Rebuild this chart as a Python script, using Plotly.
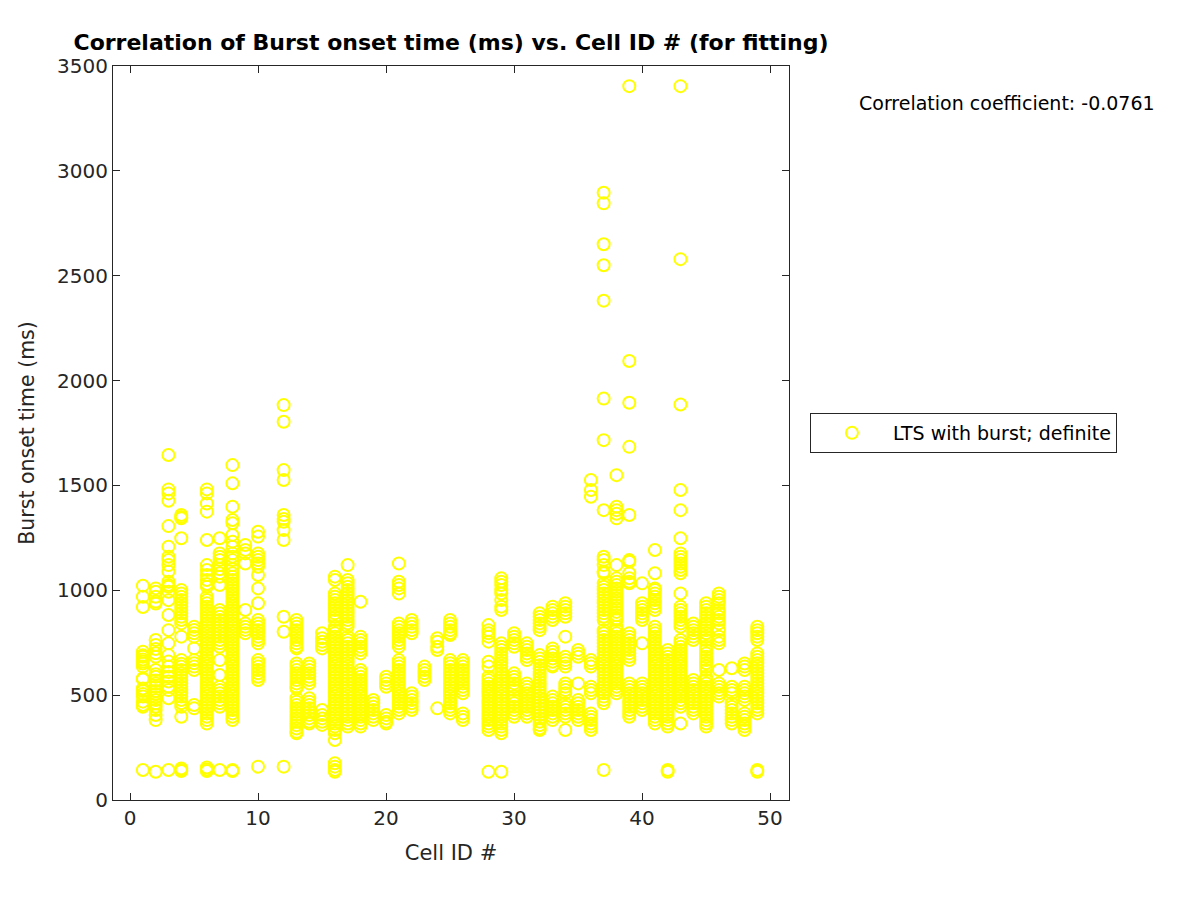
import plotly.graph_objects as go

# ---------------- data ----------------
cell_ids = [1, 2, 3, 4, 5, 6, 7, 8, 9, 10,
            12, 13, 14, 15, 16, 17, 18, 19, 20, 21, 22, 23, 24, 25, 26,
            28, 29, 30, 31, 32, 33, 34, 35, 36, 37, 38, 39, 40, 41, 42,
            43, 44, 45, 46, 47, 48, 49]

onset_cells_01_10 = [
    [1022, 969, 920, 707, 690, 683, 670, 660, 651, 636, 580, 575, 532, 520, 505, 493, 469, 453, 445, 143],
    [1009, 993, 969, 946, 937, 763, 739, 720, 700, 683, 620, 600, 588, 570, 555, 540, 520, 505, 490, 477, 460, 445, 429, 405, 381, 135],
    [1645, 1481, 1462, 1427, 1306, 1208, 1160, 1144, 1120, 1089, 1041, 1025, 1017, 993, 953, 882, 810, 747, 691, 660, 636, 610, 588, 565, 540, 524, 485, 143],
    [1359, 1350, 1343, 1248, 1001, 985, 969, 954, 938, 922, 906, 890, 874, 858, 842, 779, 667, 650, 636, 620, 604, 588, 572, 556, 540, 524, 509, 493, 477, 461, 445, 397, 150, 143, 138],
    [826, 811, 795, 779, 723, 667, 652, 636, 620, 453, 437],
    [1481, 1462, 1414, 1375, 1240, 1120, 1097, 1073, 1049, 1030, 1017, 969, 954, 938, 922, 906, 890, 874, 858, 842, 826, 810, 795, 779, 763, 747, 731, 715, 699, 683, 667, 652, 636, 620, 604, 588, 572, 556, 540, 524, 509, 493, 477, 461, 445, 429, 413, 397, 381, 365, 155, 146, 138],
    [1248, 1176, 1160, 1144, 1120, 1100, 1081, 1065, 1025, 906, 890, 874, 858, 842, 826, 810, 795, 779, 763, 747, 731, 667, 596, 540, 524, 509, 493, 477, 461, 445, 143],
    [1597, 1510, 1398, 1335, 1320, 1264, 1232, 1208, 1176, 1160, 1144, 1120, 1100, 1081, 1065, 1049, 1033, 1017, 1001, 985, 969, 954, 938, 922, 906, 890, 874, 858, 842, 826, 810, 795, 779, 763, 747, 731, 715, 699, 683, 667, 652, 636, 620, 604, 588, 572, 556, 540, 524, 509, 493, 477, 461, 445, 429, 413, 397, 381, 143, 138],
    [1216, 1192, 1176, 1128, 906, 842, 826, 811, 795],
    [1279, 1256, 1176, 1160, 1144, 1128, 1112, 1073, 1009, 938, 858, 842, 826, 810, 795, 779, 763, 747, 667, 652, 636, 620, 604, 588, 572, 159],
]

onset_cells_12_26 = [
    [1883, 1804, 1573, 1526, 1359, 1340, 1327, 1287, 1240, 874, 802, 159],
    [858, 842, 826, 810, 795, 779, 763, 747, 731, 723, 651, 636, 620, 604, 588, 572, 556, 540, 532, 485, 469, 453, 437, 421, 405, 389, 373, 357, 341, 325, 318],
    [651, 636, 620, 604, 588, 572, 556, 485, 469, 453, 437, 421, 405, 389, 373, 365],
    [795, 771, 755, 739, 723, 429, 405, 389, 373, 358],
    [1065, 1049, 985, 969, 954, 938, 922, 906, 890, 874, 858, 826, 810, 795, 779, 763, 747, 731, 715, 699, 683, 667, 652, 636, 620, 604, 588, 572, 556, 540, 524, 509, 493, 477, 461, 445, 429, 413, 397, 381, 365, 350, 334, 318, 286, 175, 159, 143, 135],
    [1120, 1049, 1033, 1017, 1001, 985, 969, 954, 938, 922, 906, 890, 874, 858, 842, 826, 779, 763, 747, 731, 715, 699, 683, 667, 652, 636, 620, 604, 588, 572, 556, 540, 524, 509, 493, 477, 461, 445, 429, 413, 397, 381, 365, 350],
    [945, 779, 763, 747, 731, 715, 699, 620, 604, 588, 572, 556, 540, 524, 509, 493, 477, 461, 445, 429, 413, 397, 381, 365, 350],
    [477, 461, 445, 429, 413, 397, 381],
    [588, 572, 556, 540, 405, 389, 373, 365],
    [1128, 1041, 1025, 1009, 985, 842, 826, 810, 795, 779, 763, 747, 731, 667, 652, 636, 620, 604, 588, 572, 556, 540, 524, 509, 493, 477, 461, 445, 429, 413],
    [858, 842, 826, 810, 795, 509, 493, 477, 461, 445, 429],
    [636, 620, 604, 588, 572],
    [771, 755, 731, 715, 437],
    [858, 842, 826, 810, 795, 787, 667, 652, 636, 620, 604, 588, 572, 556, 540, 524, 509, 493, 477, 461, 445, 429, 413],
    [667, 652, 636, 620, 604, 588, 572, 556, 540, 524, 509, 413, 397, 381],
]

onset_cells_28_49 = [
    [834, 810, 795, 779, 755, 659, 636, 588, 572, 556, 540, 524, 509, 493, 477, 461, 445, 429, 413, 397, 381, 365, 350, 334, 135],
    [1057, 1041, 1025, 1001, 985, 954, 922, 906, 747, 731, 715, 699, 683, 667, 652, 636, 620, 604, 588, 572, 556, 540, 524, 509, 493, 477, 461, 445, 429, 413, 397, 381, 365, 350, 334, 318, 135],
    [795, 779, 763, 747, 731, 604, 588, 572, 556, 540, 524, 493, 477, 461, 445, 429, 413, 397],
    [747, 731, 715, 699, 683, 667, 556, 540, 524, 509, 493, 477, 461, 445, 429, 413, 397],
    [890, 874, 858, 842, 826, 810, 691, 675, 659, 643, 627, 611, 595, 580, 564, 548, 532, 516, 500, 485, 469, 453, 437, 421, 405, 389, 373, 357, 341, 334],
    [922, 906, 890, 874, 858, 723, 707, 691, 675, 659, 643, 636, 493, 477, 461, 445, 429, 413, 397, 381],
    [938, 922, 906, 890, 874, 779, 683, 667, 652, 636, 556, 540, 524, 509, 461, 445, 429, 413, 397, 334],
    [715, 699, 683, 556, 477, 461, 445, 429, 413, 397, 381],
    [1526, 1478, 1446, 667, 652, 636, 540, 524, 509, 413, 397, 381, 365, 350, 334],
    [2896, 2845, 2650, 2550, 2381, 1914, 1716, 1382, 1160, 1144, 1120, 1089, 1081, 1033, 1017, 1001, 985, 969, 954, 938, 922, 906, 890, 874, 858, 810, 795, 779, 763, 747, 731, 715, 699, 683, 667, 652, 636, 620, 604, 588, 572, 556, 540, 524, 509, 493, 477, 461, 143],
    [1549, 1398, 1382, 1365, 1343, 1120, 1057, 1041, 1025, 1009, 993, 977, 961, 945, 929, 913, 897, 881, 865, 858, 826, 810, 795, 779, 763, 747, 731, 715, 699, 683, 667, 652, 636, 620, 604, 588, 572, 556, 540, 524, 509],
    [3404, 2093, 1894, 1684, 1359, 1144, 1136, 1081, 1057, 1041, 1033, 795, 779, 763, 747, 731, 715, 699, 683, 667, 556, 540, 524, 509, 493, 477, 461, 445, 429, 413, 397],
    [1033, 938, 922, 906, 890, 874, 858, 747, 556, 540, 524, 509, 493, 477, 461, 445, 429],
    [1192, 1081, 1009, 1001, 985, 969, 954, 938, 922, 906, 826, 810, 795, 779, 763, 747, 731, 715, 699, 683, 667, 652, 636, 620, 604, 588, 572, 556, 540, 524, 509, 493, 477, 461, 445, 429, 413, 397, 381, 365],
    [715, 699, 683, 667, 652, 636, 620, 604, 588, 572, 556, 540, 524, 509, 493, 477, 461, 445, 429, 413, 397, 381, 365, 350, 143, 135],
    [3404, 2579, 1886, 1478, 1382, 1248, 1176, 1160, 1144, 1128, 1112, 1097, 1081, 985, 922, 906, 890, 874, 858, 842, 826, 763, 747, 731, 715, 699, 683, 667, 652, 636, 620, 604, 588, 572, 556, 540, 524, 509, 493, 477, 461, 445, 365],
    [842, 826, 810, 795, 779, 763, 572, 556, 540, 524, 509, 493, 477, 461, 445, 429, 413],
    [938, 922, 906, 890, 874, 858, 842, 826, 810, 795, 779, 763, 731, 715, 699, 683, 667, 652, 636, 620, 588, 572, 556, 540, 524, 509, 493, 477, 461, 445, 429, 413, 397, 381, 365, 350],
    [985, 969, 954, 938, 906, 890, 874, 858, 842, 810, 779, 763, 747, 620, 556, 540, 524, 509, 493],
    [628, 540, 524, 509, 461, 445, 429, 413, 397, 381, 365],
    [651, 636, 620, 540, 524, 509, 493, 477, 413, 397, 381, 365, 350, 334],
    [826, 810, 795, 779, 763, 699, 683, 667, 652, 636, 620, 604, 588, 572, 556, 540, 524, 509, 493, 477, 461, 445, 429, 413, 143, 135],
]

x_ticks = [0, 10, 20, 30, 40, 50]
y_ticks = [0, 500, 1000, 1500, 2000, 2500, 3000, 3500]
corr_text = "Correlation coefficient: -0.0761"
series_name = "LTS with burst; definite"

# ---------------- build ----------------
onset_all = onset_cells_01_10 + onset_cells_12_26 + onset_cells_28_49
xs, ys = [], []
for cid, vals in zip(cell_ids, onset_all):
    for v in vals:
        xs.append(cid)
        ys.append(v)

FONT = "DejaVu Sans"
AX = "#262626"

fig = go.Figure()
fig.add_trace(go.Scatter(
    x=xs, y=ys, mode="markers", name=series_name,
    marker=dict(symbol="circle-open", size=12, color="#ffff00",
                line=dict(color="#ffff00", width=2)),
))

axis_common = dict(
    showline=True, linecolor=AX, linewidth=1, mirror="ticks",
    ticks="inside", ticklen=7, tickwidth=1, tickcolor=AX,
    showgrid=False, zeroline=False,
    tickfont=dict(family=FONT, size=20, color=AX),
)

fig.update_layout(
    width=1200, height=900,
    paper_bgcolor="white", plot_bgcolor="white",
    margin=dict(l=105, r=419, t=58, b=108),
    title=dict(text="<b>Correlation of Burst onset time (ms) vs. Cell ID # (for fitting)</b>",
               x=443 / 1200, xanchor="center",
               y=1 - 34 / 900, yanchor="middle",
               font=dict(family=FONT, size=22, color="black")),
    xaxis=dict(range=[-1.33, 51.48], tickvals=x_ticks,
               title=dict(text="Cell ID #", font=dict(family=FONT, size=21, color=AX), standoff=16),
               **axis_common),
    yaxis=dict(range=[0, 3500], tickvals=y_ticks,
               title=dict(text="Burst onset time (ms)", font=dict(family=FONT, size=20.5, color=AX), standoff=16),
               **axis_common),
    showlegend=True,
    legend=dict(x=1.031, xanchor="left", y=0.5, yanchor="middle",
                bgcolor="white", bordercolor=AX, borderwidth=1,
                font=dict(family=FONT, size=19, color="black"),
                itemwidth=72),
    annotations=[dict(text=corr_text, xref="paper", yref="paper",
                      x=(857 - 113) / 676, y=(800 - 103) / 734,
                      xanchor="left", yanchor="middle", showarrow=False,
                      font=dict(family=FONT, size=19, color="black"))],
)

fig.write_html("out.html")
